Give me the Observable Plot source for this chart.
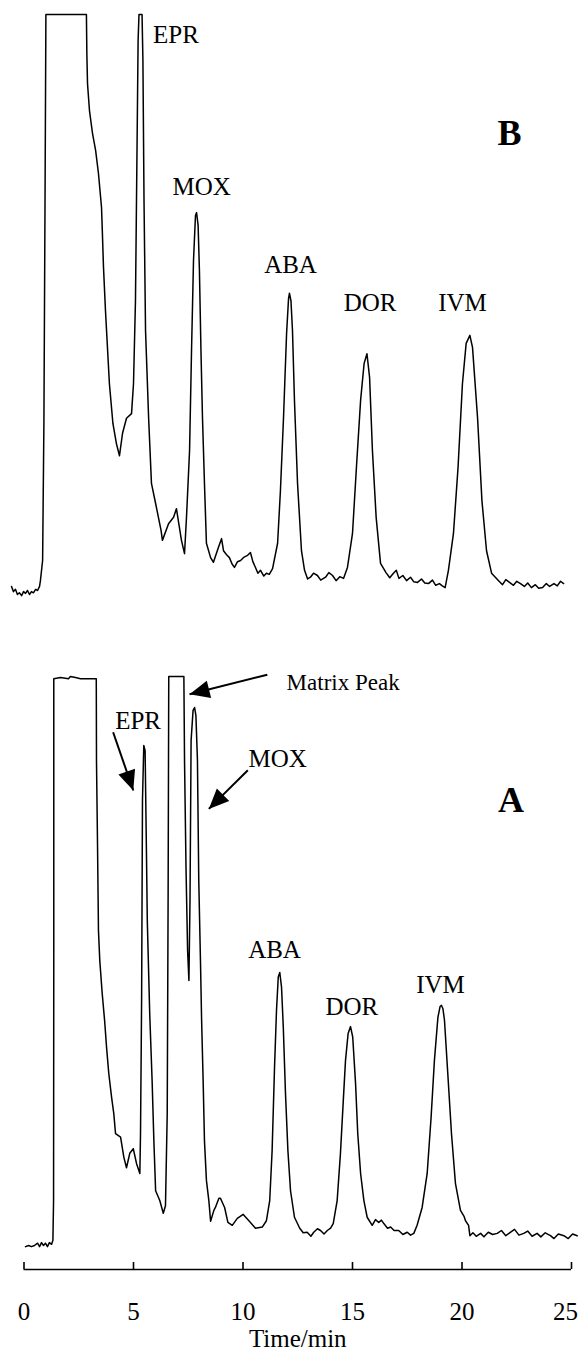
<!DOCTYPE html>
<html><head><meta charset="utf-8">
<script src="https://cdn.jsdelivr.net/npm/d3@7"></script>
<script src="https://cdn.jsdelivr.net/npm/@observablehq/plot@0.6"></script>
<style>html,body{margin:0;padding:0;background:#fff}</style>
</head><body><div id="chart"></div>
<script>
// ---- Trace B (upper chromatogram): time (min) and signal (% of detector range) ----
const traceBTime = [-0.57,-0.48,-0.39,-0.30,-0.21,-0.11,-0.02,0.07,0.16,0.25,0.34,0.43,0.53,0.62,0.71,
  0.75,0.85,0.91,0.96,1.00,1.33,1.67,2.00,2.35,2.60,2.85,
  2.87,2.90,2.99,3.13,3.27,3.40,3.54,3.58,3.63,3.72,3.90,4.06,4.22,4.36,4.50,4.68,4.91,5.00,5.09,5.16,5.21,5.25,5.39,5.43,5.48,5.55,5.69,5.82,6.01,6.26,6.32,6.60,6.83,6.96,7.19,7.33,7.42,7.56,7.65,7.74,7.83,7.88,7.95,8.01,8.08,8.15,8.24,8.33,8.52,8.65,8.88,9.02,9.11,9.25,
  9.38,9.50,9.61,9.75,9.89,10.05,10.21,10.34,10.45,10.57,10.68,10.80,10.95,11.07,11.20,11.35,11.58,11.71,11.85,11.99,12.08,12.12,12.19,12.26,12.35,12.49,12.67,12.81,12.95,13.08,13.22,13.40,13.55,13.77,13.92,14.09,14.25,14.42,14.59,14.77,15.00,15.18,15.37,15.53,15.66,15.78,15.91,16.08,16.28,16.53,16.70,16.87,17.00,17.12,17.30,17.47,17.65,17.80,17.97,18.15,18.30,18.47,18.65,18.80,18.97,19.10,19.23,19.38,19.61,19.82,20.02,20.19,20.36,20.48,20.71,20.91,21.12,21.35,21.67,21.85,22.00,22.17,22.35,22.50,22.67,22.85,23.00,23.17,23.35,23.50,23.68,23.85,24.00,24.20,24.35,24.50,24.64];
const traceBSignal = [0.7,-0.2,0.2,-0.7,-0.4,-0.9,-0.2,-0.5,0.0,-0.7,-0.2,-0.4,0.2,0.0,0.7,
  1.7,5.2,29.5,67.7,100,100,100,100,100,100,100,
  93.2,88.0,83.3,79.3,76.4,72.4,66.5,62.0,56.1,48.6,35.9,29.0,25.5,23.4,27.3,29.9,30.7,35.9,50.3,76.4,95.5,100,100,92.0,67.7,45.1,30.0,18.6,15.1,10.4,8.7,11.6,12.7,14.2,8.7,6.4,12.7,24.3,41.7,57.3,65.1,65.6,63.4,55.6,41.7,30.0,18.6,8.2,5.7,4.9,7.5,9.0,6.9,6.2,
  5.7,4.6,4.0,5.0,5.2,5.8,6.1,6.6,5.0,4.0,3.0,3.5,2.5,3.0,2.8,3.8,8.2,17.4,30.0,44.6,50.7,51.6,50.3,45.1,33.0,18.6,6.9,3.5,2.0,2.3,3.0,2.6,1.8,2.3,3.1,2.6,1.7,2.4,2.1,4.0,9.9,21.4,33.0,39.4,41.1,37.0,24.3,12.7,4.7,3.1,2.2,3.0,3.5,2.1,2.6,1.7,2.3,1.5,1.4,2.0,1.3,1.2,1.8,0.9,1.2,0.8,0.5,3.5,9.9,21.4,35.9,42.9,44.3,42.2,30.0,15.6,6.9,3.0,1.7,1.0,1.9,1.4,0.9,1.6,1.2,0.7,1.3,0.5,1.0,0.4,0.5,1.2,0.7,1.2,0.8,1.6,1.2];

// ---- Trace A (lower chromatogram) ----
const traceATime = [0.07,0.21,0.34,0.48,0.62,0.71,0.80,0.89,0.98,1.07,1.16,1.26,1.32,1.35,1.36,1.36,1.67,2.03,2.12,2.35,2.58,3.30,
  3.31,3.36,3.40,3.46,3.57,3.68,3.77,3.87,4.00,4.10,4.18,4.41,4.56,4.68,4.83,4.99,5.14,5.29,5.32,5.37,5.41,5.47,5.53,5.59,5.63,5.74,5.85,5.93,6.01,6.20,6.36,6.46,6.54,6.58,6.61,7.30,
  7.33,7.40,7.47,7.53,7.58,7.63,7.72,7.79,7.85,7.92,7.98,8.06,8.11,8.18,8.24,8.33,8.44,8.52,8.67,8.74,8.90,8.97,9.16,9.31,9.51,9.74,10.01,10.27,10.57,10.88,11.07,11.22,11.33,11.44,11.53,11.61,11.68,11.76,11.84,11.94,12.05,12.17,12.35,12.59,12.75,12.93,13.10,13.23,13.40,13.54,13.70,13.85,14.00,14.12,14.30,14.45,14.58,14.68,14.80,14.91,15.01,15.14,15.24,15.37,15.52,15.67,15.90,16.05,16.20,16.32,16.43,16.60,16.74,16.90,17.11,17.30,17.50,17.65,17.80,17.95,18.18,18.41,18.59,18.74,18.90,19.00,19.06,19.13,19.20,19.35,19.52,19.70,19.93,20.10,20.16,20.30,20.36,20.50,20.65,20.85,21.00,21.20,21.40,21.61,21.80,22.00,22.22,22.40,22.60,22.82,23.00,23.20,23.43,23.60,23.80,24.04,24.20,24.40,24.65,24.85,25.05,25.26];
const traceASignal = [-0.2,0.0,-0.2,0.0,0.4,-0.2,0.5,0.0,0.4,-0.2,0.5,0.2,0.9,7.8,51.2,98.4,98.6,98.4,98.8,98.6,98.4,98.4,
  84.2,68.6,54.7,49.5,43.8,39.1,34.4,29.9,25.7,22.9,19.4,18.8,15.3,13.5,16.0,16.8,14.2,12.5,19.4,42.5,77.3,86.8,85.9,68.6,56.4,40.3,28.6,18.2,9.5,7.8,5.6,6.9,22.9,59.9,98.8,98.8,
  84.2,65.1,51.2,46.0,59.9,87.7,92.9,93.4,92.0,84.2,63.4,49.0,39.1,28.6,18.2,11.3,7.8,4.2,6.1,6.6,8.2,8.2,6.6,4.0,3.5,4.7,5.4,4.3,3.0,3.2,4.3,7.8,16.5,31.0,40.8,46.6,47.4,44.8,37.9,26.4,16.5,9.5,4.9,3.0,2.2,2.3,1.6,2.3,2.9,2.6,2.0,2.6,3.0,3.8,7.8,16.0,25.2,32.1,36.8,38.0,36.2,28.1,19.4,12.5,7.8,4.9,3.5,4.5,4.0,4.4,3.8,3.0,3.2,2.6,2.6,1.9,2.3,1.8,2.1,3.5,6.6,12.5,22.3,32.1,39.6,41.5,41.7,41.1,39.1,29.9,19.4,10.8,6.1,5.0,4.3,3.5,1.7,2.2,1.6,2.1,1.5,2.3,1.9,2.1,2.6,1.7,2.3,2.8,1.8,2.1,2.5,1.6,2.1,1.5,2.2,1.7,1.2,2.0,1.7,1.2,2.0,1.7];

// ---- Peak labels ----
const labelTrace  = ["B","B","B","B","B","A","A","A","A","A"];
const labelText   = ["EPR","MOX","ABA","DOR","IVM","EPR","MOX","ABA","DOR","IVM"];
const labelTime   = [6.94, 8.11, 12.17, 15.80, 20.02, 5.21, 11.58, 11.44, 14.97, 19.02];
const labelSignal = [95.1, 68.6, 55.2, 48.6, 48.6, 89.7, 83.0, 49.9, 40.1, 43.8];

// ---- Matrix peak note (trace A) ----
const noteText = ["Matrix Peak"];
const noteTime = [11.99];
const noteSignal = [96.5];

// ---- Panel letters ----
const panelText = ["B","A"];
const panelTime = [22.17, 22.24];
const panelSignal = [77.4, 75.2];

// ---- Arrows in trace A (from label to peak) ----
const arrowFromTime = [4.07, 11.11, 10.22];
const arrowFromSignal = [89.1, 99.1, 82.5];
const arrowToTime = [4.99, 7.56, 8.44];
const arrowToSignal = [79.0, 95.7, 75.8];

// ---- Axis ----
const xTicks = [0, 5, 10, 15, 20, 25];
const xLabel = "Time/min";

// ---- layout ----
const width = 579, height = 1356;
const xDomain = [0, 25], xRange = [23.5, 571];
const yDomain = [-4.17, 213.72], yRange = [1269, 14];
const traceOffset = {A: 0, B: 113.72}; // B is stacked above A
const yOf = d => d.v + traceOffset[d.trace];

const rows = (trace, ts, vs) => ts.map((t, i) => ({trace, t, v: vs[i]}));
const traces = [...rows("B", traceBTime, traceBSignal), ...rows("A", traceATime, traceASignal)];
const labels = labelText.map((text, i) => ({text, trace: labelTrace[i], t: labelTime[i], v: labelSignal[i]}));
const notes = noteText.map((text, i) => ({text, trace: "A", t: noteTime[i], v: noteSignal[i]}));
const panels = panelText.map((text, i) => ({text, trace: text, t: panelTime[i], v: panelSignal[i]}));
const arrows = arrowFromTime.map((t1, i) => ({trace: "A", t1, v1: arrowFromSignal[i], t2: arrowToTime[i], v2: arrowToSignal[i]}));

const xs = d3.scaleLinear(xDomain, xRange), ys = d3.scaleLinear(yDomain, yRange);
const angle = d => Math.atan2(xs(d.t2) - xs(d.t1), -(ys(d.v2 + traceOffset[d.trace]) - ys(d.v1 + traceOffset[d.trace]))) * 180 / Math.PI;

// filled triangular arrow head whose tip sits at the anchor point
const arrowHead = {
  draw(context, size) {
    const r = Math.sqrt(size / Math.PI);
    const h = 2.5 * r, w = 1.1 * r;
    context.moveTo(0, 0);
    context.lineTo(-w, h);
    context.lineTo(w, h);
    context.closePath();
  }
};

const font = '"Liberation Serif", "Times New Roman", Times, serif';
const lastTick = xTicks[xTicks.length - 1];

const chart = Plot.plot({
  width, height,
  marginLeft: 23.5, marginRight: 8, marginTop: 14, marginBottom: 94,
  style: {fontFamily: font, fontSize: "25px", background: "#fff", color: "#000", overflow: "visible"},
  x: {domain: xDomain, range: xRange},
  y: {domain: yDomain, range: yRange, axis: null},
  marks: [
    Plot.ruleY([yDomain[0]], {stroke: "#000", strokeWidth: 1.6}),
    // tick marks (pointing up from the axis line)
    Plot.axisX({ticks: xTicks, tickSize: 7, tickPadding: 0, strokeWidth: 1.6, tickFormat: () => "", label: null}),
    // tick labels
    Plot.axisX({ticks: xTicks.filter(d => d !== lastTick), tickSize: 0, tickPadding: 40, tickFormat: d => String(d),
      label: xLabel, labelAnchor: "center", labelOffset: 84, labelArrow: "none", fontSize: 25}),
    Plot.axisX({ticks: [lastTick], tickSize: 0, tickPadding: 40, dx: -6, tickFormat: d => String(d), label: null, fontSize: 25}),
    Plot.line(traces, {x: "t", y: yOf, z: "trace", stroke: "#000", strokeWidth: 1.5}),
    Plot.text(labels, {x: "t", y: yOf, text: "text", lineAnchor: "bottom", textAnchor: "middle", fontSize: 25, fill: "#000"}),
    Plot.text(notes, {x: "t", y: yOf, text: "text", lineAnchor: "bottom", textAnchor: "start", fontSize: 23, fill: "#000"}),
    Plot.text(panels, {x: "t", y: yOf, text: "text", lineAnchor: "bottom", textAnchor: "middle", fontSize: 36, fontWeight: "bold", fill: "#000"}),
    Plot.link(arrows, {x1: "t1", y1: d => d.v1 + traceOffset[d.trace], x2: "t2", y2: d => d.v2 + traceOffset[d.trace], stroke: "#000", strokeWidth: 2}),
    Plot.dot(arrows, {x: "t2", y: d => d.v2 + traceOffset[d.trace], symbol: arrowHead, r: 8, fill: "#000", stroke: "none", rotate: angle})
  ]
});
document.getElementById("chart").appendChild(chart);
</script>
</body></html>
